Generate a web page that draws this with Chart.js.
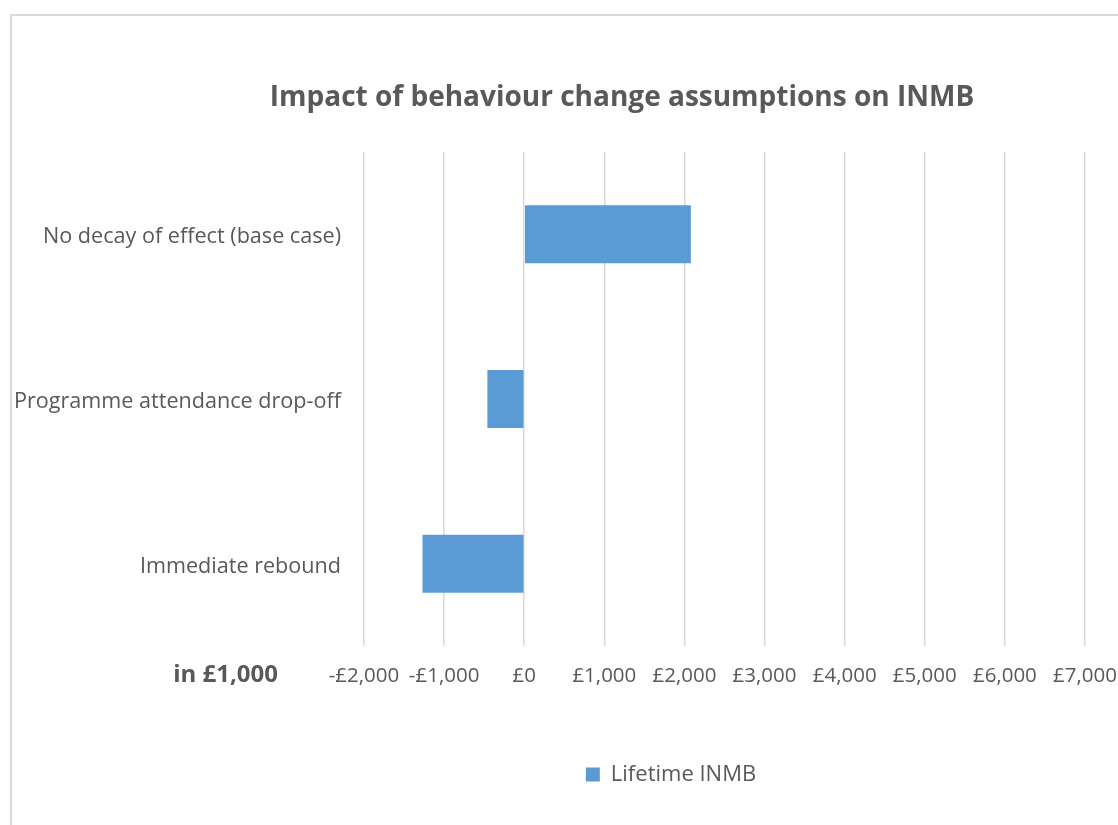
<!DOCTYPE html>
<html>
<head>
<meta charset="utf-8">
<script src="https://cdn.jsdelivr.net/npm/chart.js@4.4.1/dist/chart.umd.min.js"></script>
<style>
  html, body { margin: 0; padding: 0; background: #ffffff; overflow: hidden; width: 1118px; height: 825px; }
  #frame { position: absolute; left: 10px; top: 14px; width: 1300px; height: 1000px; border: 2px solid #d9d9d9; box-sizing: border-box; }
  #c { position: absolute; left: 0; top: 0; }
</style>
</head>
<body>
<div id="frame"></div>
<canvas id="c" width="1118" height="825"></canvas>
<script>
const chartTitle = "Impact of behaviour change assumptions on INMB";
const categories = ["No decay of effect (base case)", "Programme attendance drop-off", "Immediate rebound"];
const seriesName = "Lifetime INMB";
const lifetimeINMB = [2080, -460, -1270];
const xTickValues = [-2000, -1000, 0, 1000, 2000, 3000, 4000, 5000, 6000, 7000];
const unitLabel = "in £1,000";

const textColor = "#595959";
const barColor = "#5B9BD5";
const gridColor = "#d9d9d9";

Chart.defaults.font.family = "'Open Sans', sans-serif";
Chart.defaults.color = textColor;

function fmtPound(v) {
  const s = Math.abs(v).toLocaleString("en-GB");
  return (v < 0 ? "-£" : "£") + s;
}

const extras = {
  id: "extras",
  afterLayout(chart) {
    // place title and legend where the original chart has them
    const tCenter = (chart.titleBlock.left + chart.titleBlock.right) / 2;
    const tShift = 622 - tCenter;
    chart.titleBlock.left += tShift;
    chart.titleBlock.right += tShift;
    const lCenter = (chart.legend.left + chart.legend.right) / 2;
    const lShift = 671 - lCenter;
    chart.legend.left += lShift;
    chart.legend.right += lShift;
  },
  afterDraw(chart) {
    const ctx = chart.ctx;
    const area = chart.chartArea;
    ctx.save();
    ctx.font = "bold 24px 'Open Sans', sans-serif";
    ctx.fillStyle = textColor;
    ctx.textAlign = "right";
    ctx.textBaseline = "middle";
    ctx.fillText(unitLabel, area.left - 86, area.bottom + 29);
    ctx.restore();
  }
};

new Chart(document.getElementById("c"), {
  type: "bar",
  data: {
    labels: categories,
    datasets: [{
      label: seriesName,
      data: lifetimeINMB,
      backgroundColor: barColor,
      borderWidth: 0,
      categoryPercentage: 1.0,
      barPercentage: 0.352
    }]
  },
  options: {
    indexAxis: "y",
    responsive: false,
    animation: false,
    layout: { padding: { left: 0, right: 33, top: 0, bottom: 29.5 } },
    plugins: {
      title: {
        display: true,
        text: chartTitle,
        color: textColor,
        font: { size: 28, weight: "bold" },
        padding: { top: 81, bottom: 37.4 }
      },
      legend: {
        display: true,
        position: "bottom",
        labels: {
          boxWidth: 14,
          boxHeight: 14,
          padding: 10,
          color: textColor,
          font: { size: 22 }
        }
      },
      tooltip: { enabled: false }
    },
    scales: {
      x: {
        type: "linear",
        min: -2000,
        max: 7000,
        afterBuildTicks(scale) { scale.ticks = xTickValues.map(v => ({ value: v })); },
        afterFit(scale) { scale.height = 107.5; },
        grid: { display: true, color: gridColor, lineWidth: 1.5, drawTicks: true, tickLength: 18, tickColor: "rgba(0,0,0,0)" },
        border: { display: false },
        ticks: {
          padding: 0,
          color: textColor,
          font: { size: 20.5 },
          maxRotation: 0,
          callback: (v) => fmtPound(v)
        }
      },
      y: {
        afterFit(scale) { scale.width = 364; },
        grid: { display: false, drawTicks: false },
        border: { display: false },
        ticks: {
          padding: 23,
          labelOffset: 3,
          color: textColor,
          font: { size: 21.6 }
        }
      }
    }
  },
  plugins: [extras]
});
</script>
</body>
</html>
